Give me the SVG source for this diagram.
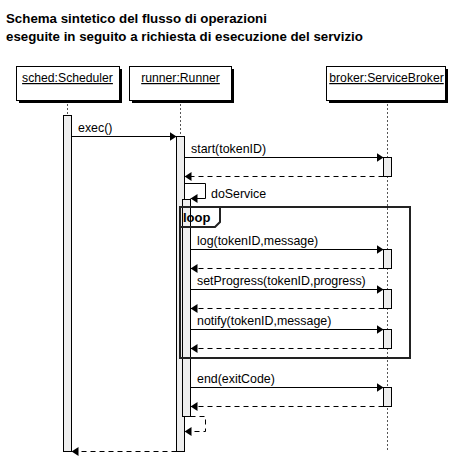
<svg xmlns="http://www.w3.org/2000/svg" width="461" height="459" viewBox="0 0 461 459">
<style>
text{font-family:"Liberation Sans",Arial,sans-serif;font-size:12.4px;fill:#000}
.title{font-weight:bold;font-size:13.3px}
.pname{font-size:12.2px}
.pbox{fill:#fff;stroke:#000;stroke-width:1}
.shadow{fill:#000}
.life{stroke:#555;stroke-width:1;stroke-dasharray:2,2;fill:none}
.act{fill:#eee;stroke:#000;stroke-width:1}
.msg{stroke:#000;stroke-width:1;fill:none}
.ret{stroke:#000;stroke-width:1;fill:none;stroke-dasharray:5,4}
.frame{fill:none;stroke:#222;stroke-width:2}
.head{fill:#000}
</style>
<defs>
<marker id="ah" viewBox="0 0 7 9" refX="7" refY="4.5" markerWidth="7" markerHeight="9" markerUnits="userSpaceOnUse" orient="auto">
<path d="M0,0 L7,4.5 L0,9 Z" class="head"/>
</marker>
</defs>
<g id="title">
<text class="title" x="6" y="23">Schema sintetico del flusso di operazioni</text>
<text class="title" x="6" y="41">eseguite in seguito a richiesta di esecuzione del servizio</text>
</g>
<g id="lifelines">
<line class="life" x1="67.5" y1="100" x2="67.5" y2="115"/>
<line class="life" x1="180.5" y1="100" x2="180.5" y2="136"/>
<line class="life" x1="387.5" y1="100" x2="387.5" y2="450"/>
</g>
<g id="sched">
<rect class="shadow" x="19" y="69" width="103" height="34"/>
<rect class="pbox" x="16.5" y="66.5" width="103" height="34"/>
<text class="pname" x="67.5" y="82" text-anchor="middle" text-decoration="underline">sched:Scheduler</text>
</g>
<g id="runner">
<rect class="shadow" x="132" y="69" width="102" height="34"/>
<rect class="pbox" x="129.5" y="66.5" width="102" height="34"/>
<text class="pname" x="180.5" y="82" text-anchor="middle" text-decoration="underline">runner:Runner</text>
</g>
<g id="broker">
<rect class="shadow" x="329" y="69" width="119" height="34"/>
<rect class="pbox" x="326.5" y="66.5" width="119" height="34"/>
<text class="pname" x="386.5" y="82" text-anchor="middle" text-decoration="underline">broker:ServiceBroker</text>
</g>
<g id="activations">
<rect class="act" x="63.5" y="115.5" width="8" height="336"/>
<rect class="act" x="176.5" y="136.5" width="8" height="315"/>
<rect class="act" x="182.5" y="199.5" width="8" height="217"/>
<rect class="act" x="383.5" y="157.5" width="8" height="19"/>
<rect class="act" x="383.5" y="249.5" width="8" height="19"/>
<rect class="act" x="383.5" y="289.5" width="8" height="19"/>
<rect class="act" x="383.5" y="329.5" width="8" height="19"/>
<rect class="act" x="383.5" y="387.5" width="8" height="19"/>
</g>
<g id="loop">
<rect class="frame" x="180" y="207" width="230" height="151"/>
<path class="frame" d="M180,227 L215,227 L220,222 L220,207"/>
<text x="183" y="222" style="font-weight:bold;font-size:13px">loop</text>
</g>
<g id="connectors">
<line class="msg" x1="71.5" y1="136.5" x2="176.5" y2="136.5" marker-end="url(#ah)"/>
<text x="78" y="132">exec()</text>
<line class="msg" x1="184.5" y1="157.5" x2="383.5" y2="157.5" marker-end="url(#ah)"/>
<text x="191" y="153">start(tokenID)</text>
<line class="ret" x1="383.5" y1="176.5" x2="184.5" y2="176.5" marker-end="url(#ah)"/>
<path class="msg" d="M184.5,183.5 L205.5,183.5 L205.5,198.5 L190.5,198.5" marker-end="url(#ah)"/>
<text x="211" y="198">doService</text>
<line class="msg" x1="190.5" y1="249.5" x2="383.5" y2="249.5" marker-end="url(#ah)"/>
<text x="197" y="245">log(tokenID,message)</text>
<line class="ret" x1="383.5" y1="268.5" x2="190.5" y2="268.5" marker-end="url(#ah)"/>
<line class="msg" x1="190.5" y1="289.5" x2="383.5" y2="289.5" marker-end="url(#ah)"/>
<text x="197" y="285">setProgress(tokenID,progress)</text>
<line class="ret" x1="383.5" y1="308.5" x2="190.5" y2="308.5" marker-end="url(#ah)"/>
<line class="msg" x1="190.5" y1="329.5" x2="383.5" y2="329.5" marker-end="url(#ah)"/>
<text x="197" y="325">notify(tokenID,message)</text>
<line class="ret" x1="383.5" y1="348.5" x2="190.5" y2="348.5" marker-end="url(#ah)"/>
<line class="msg" x1="190.5" y1="387.5" x2="383.5" y2="387.5" marker-end="url(#ah)"/>
<text x="197" y="383">end(exitCode)</text>
<line class="ret" x1="383.5" y1="406.5" x2="190.5" y2="406.5" marker-end="url(#ah)"/>
<path class="ret" d="M190.5,416.5 L205.5,416.5 L205.5,431.5 L184.5,431.5" marker-end="url(#ah)"/>
<line class="ret" x1="176.5" y1="451.5" x2="71.5" y2="451.5" marker-end="url(#ah)"/>
</g>
</svg>
